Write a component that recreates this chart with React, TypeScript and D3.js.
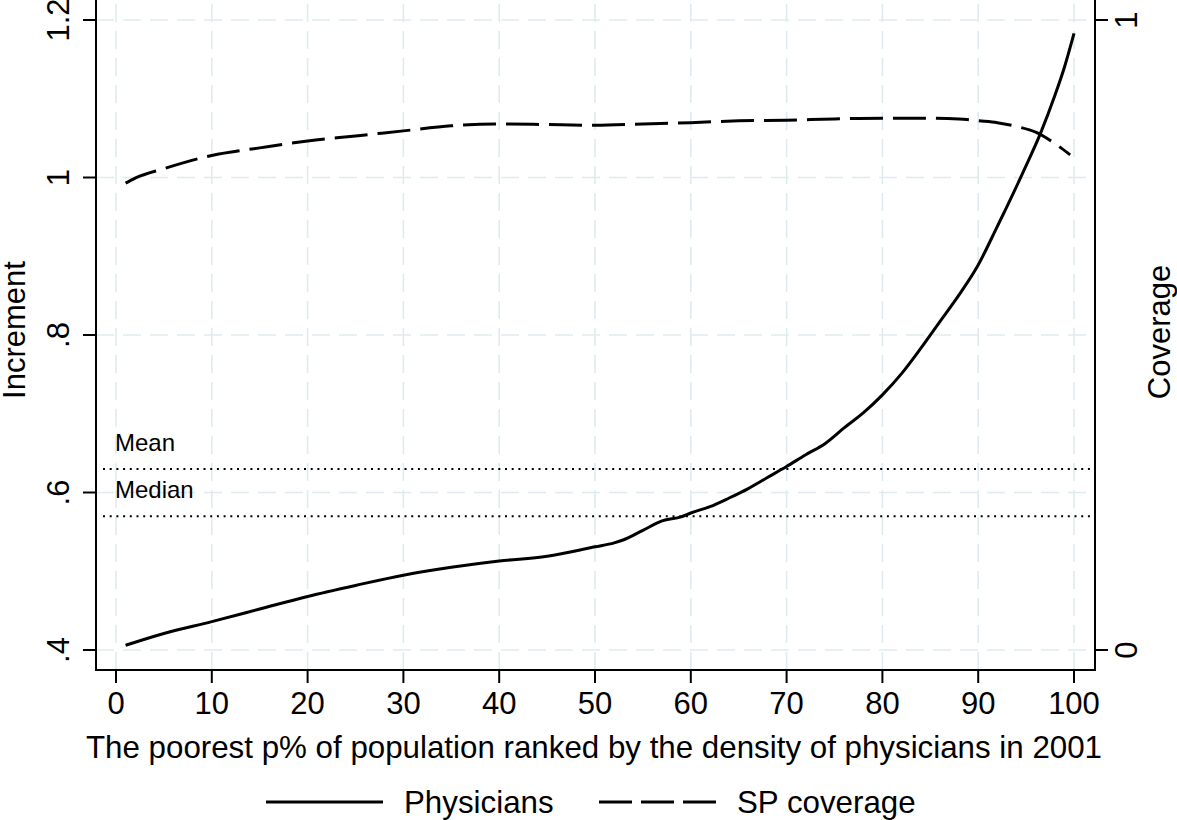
import React from "react";
import * as d3 from "d3";

// x axis: poorest p% of population
const xTicks = [0, 10, 20, 30, 40, 50, 60, 70, 80, 90, 100];

// left axis (Increment)
const yTicks = [0.4, 0.6, 0.8, 1, 1.2];
const yTickLabels = [".4", ".6", ".8", "1", "1.2"];

// right axis (Coverage)
const covTicks = [0, 1];
const covTickLabels = ["0", "1"];

// Physicians increment curve
const physP = [1, 5, 10, 15, 20, 25, 30, 35, 40, 45, 50, 52, 53, 55, 57, 59, 60, 62, 64, 66, 68, 70, 72, 74, 76, 78, 80, 82, 84, 86, 88, 90, 92, 93, 95, 96.5, 98, 99, 100];
const physVal = [0.406, 0.421, 0.436, 0.452, 0.468, 0.482, 0.495, 0.505, 0.513, 0.519, 0.531, 0.536, 0.540, 0.552, 0.564, 0.569, 0.574, 0.582, 0.593, 0.605, 0.619, 0.633, 0.648, 0.662, 0.682, 0.701, 0.724, 0.751, 0.783, 0.817, 0.851, 0.889, 0.938, 0.963, 1.015, 1.056, 1.104, 1.140, 1.183];

// SP coverage curve
const covP = [1, 2, 5, 10, 15, 20, 25, 30, 35, 40, 45, 50, 55, 60, 65, 70, 75, 80, 85, 88, 90, 92, 94, 96, 98, 99.6];
const covVal = [0.741, 0.749, 0.764, 0.785, 0.797, 0.808, 0.816, 0.824, 0.832, 0.835, 0.834, 0.833, 0.835, 0.837, 0.840, 0.841, 0.843, 0.844, 0.844, 0.843, 0.840, 0.837, 0.831, 0.822, 0.804, 0.786];

const refNames = ["Mean", "Median"];
const refValues = [0.63, 0.57];

const legendNames = ["Physicians", "SP coverage"];

const font = "'Liberation Sans', Arial, Helvetica, sans-serif";
const gridColor = "#dfecef";

export default function App() {
  const width = 1177;
  const height = 820;
  const left = 96, right = 1095, bottom = 670;

  const x = d3.scaleLinear().domain([0, 100]).range([116, 1074]);
  const y = d3.scaleLinear().domain([0.4, 1.2]).range([650, 20]);
  const yc = d3.scaleLinear().domain([0, 1]).range([650, 20]);

  const physLine = d3
    .line<number>()
    .x((_, i) => x(physP[i]))
    .y((d) => y(d))
    .curve(d3.curveMonotoneX);

  const covLine = d3
    .line<number>()
    .x((_, i) => x(covP[i]))
    .y((d) => yc(d))
    .curve(d3.curveMonotoneX);

  return (
    <svg
      width={width}
      height={height}
      style={{ position: "absolute", left: 0, top: 0, background: "#fff" }}
      fontFamily={font}
    >
      {/* grid */}
      <g stroke={gridColor} strokeWidth={1.6} strokeDasharray="18,9" fill="none">
        {xTicks.map((t) => (
          <line key={"gx" + t} x1={x(t)} x2={x(t)} y1={bottom} y2={0} />
        ))}
        {yTicks.map((t) => (
          <line key={"gy" + t} x1={left} x2={right} y1={y(t)} y2={y(t)} />
        ))}
      </g>

      {/* mean / median reference lines */}
      {refValues.map((v, i) => (
        <g key={refNames[i]}>
          <line
            x1={103}
            x2={1090}
            y1={y(v)}
            y2={y(v)}
            stroke="#000"
            strokeWidth={2}
            strokeDasharray="2,4.7"
          />
          <text x={115} y={y(v) - 18} fontSize={24}>
            {refNames[i]}
          </text>
        </g>
      ))}

      {/* series */}
      <path d={physLine(physVal) ?? ""} fill="none" stroke="#000" strokeWidth={3} />
      <path
        d={covLine(covVal) ?? ""}
        fill="none"
        stroke="#000"
        strokeWidth={3}
        strokeDasharray="33,10"
      />

      {/* axes */}
      <g stroke="#000" strokeWidth={2}>
        <line x1={left} x2={left} y1={0} y2={bottom + 1} />
        <line x1={right} x2={right} y1={0} y2={bottom + 1} />
        <line x1={left} x2={right} y1={bottom} y2={bottom} />
        {xTicks.map((t) => (
          <line key={"tx" + t} x1={x(t)} x2={x(t)} y1={bottom} y2={bottom + 13} />
        ))}
        {yTicks.map((t) => (
          <line key={"ty" + t} x1={left - 13} x2={left} y1={y(t)} y2={y(t)} />
        ))}
        {covTicks.map((t) => (
          <line key={"tc" + t} x1={right} x2={right + 13} y1={yc(t)} y2={yc(t)} />
        ))}
      </g>

      {/* tick labels */}
      {xTicks.map((t) => (
        <text key={"lx" + t} x={x(t)} y={714} fontSize={31} textAnchor="middle">
          {t}
        </text>
      ))}
      {yTicks.map((t, i) => (
        <text
          key={"ly" + t}
          transform={`translate(69,${y(t)}) rotate(-90)`}
          fontSize={31}
          textAnchor="middle"
        >
          {yTickLabels[i]}
        </text>
      ))}
      {covTicks.map((t, i) => (
        <text
          key={"lc" + t}
          transform={`translate(1137,${yc(t)}) rotate(-90)`}
          fontSize={31}
          textAnchor="middle"
        >
          {covTickLabels[i]}
        </text>
      ))}

      {/* axis titles */}
      <text x={(88 + 1100) / 2} y={758} fontSize={31.3} textAnchor="middle">
        The poorest p% of population ranked by the density of physicians in 2001
      </text>
      <text transform="translate(25,330) rotate(-90)" fontSize={31} textAnchor="middle">
        Increment
      </text>
      <text transform="translate(1170,332) rotate(-90)" fontSize={31} textAnchor="middle">
        Coverage
      </text>

      {/* legend */}
      <line x1={266} x2={383} y1={802} y2={802} stroke="#000" strokeWidth={3} />
      <text x={404} y={813} fontSize={31.3}>
        {legendNames[0]}
      </text>
      <line
        x1={599}
        x2={716}
        y1={802}
        y2={802}
        stroke="#000"
        strokeWidth={3}
        strokeDasharray="33,9"
      />
      <text x={737} y={813} fontSize={31.3}>
        {legendNames[1]}
      </text>
    </svg>
  );
}
